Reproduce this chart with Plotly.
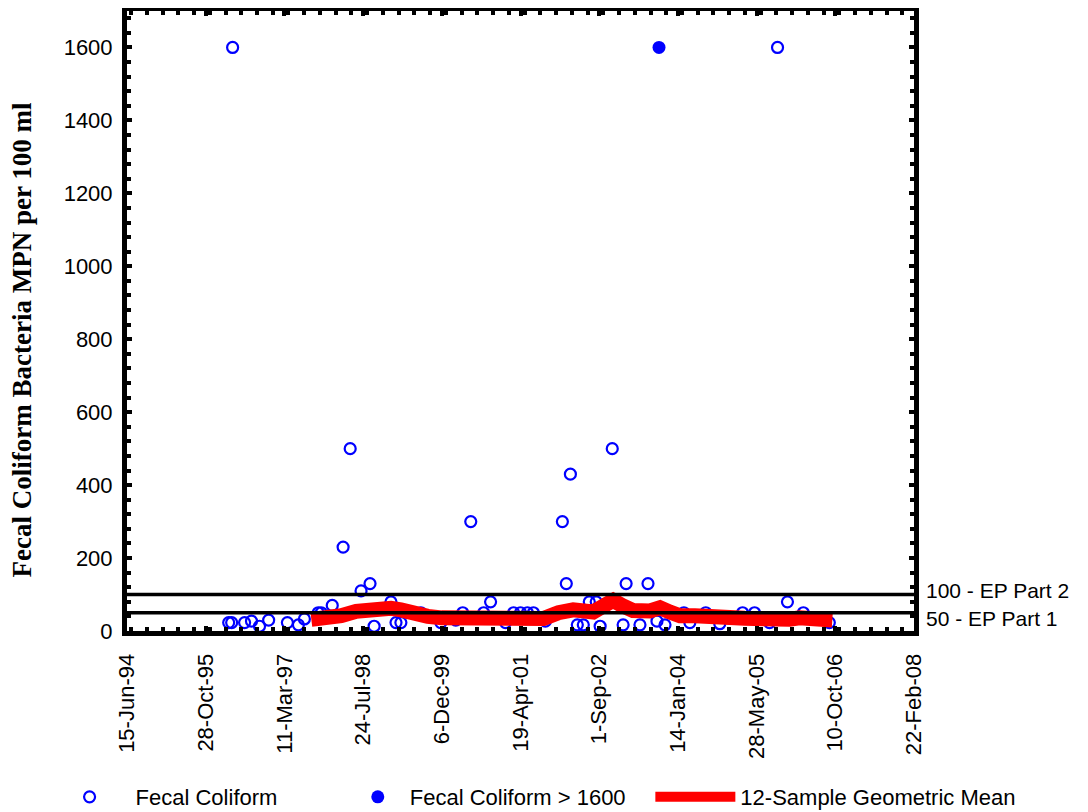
import plotly.graph_objects as go

# Fecal coliform samples (MPN per 100 ml)
fc_dates = [
    "1996-03-22", "1996-04-10", "1996-07-01", "1996-08-14", "1996-10-04", "1996-12-01",
    "1997-03-30", "1997-06-08", "1997-07-16", "1997-10-12", "1997-10-31", "1998-01-09",
    "1998-03-19", "1998-05-03", "1998-07-11", "1998-09-06", "1998-10-02", "1999-01-17",
    "1999-02-18", "1999-03-21", "1999-07-26", "1999-11-30", "2000-03-04", "2000-04-17",
    "2000-06-07", "2000-08-28", "2000-10-11", "2001-01-14", "2001-03-06", "2001-04-19",
    "2001-06-02", "2001-07-10", "2001-09-24", "2002-01-10", "2002-02-04", "2002-03-02",
    "2002-04-15", "2002-05-23", "2002-06-30", "2002-08-13", "2002-09-07", "2002-11-23",
    "2003-01-31", "2003-02-19", "2003-05-18", "2003-07-08", "2003-09-03", "2003-10-24",
    "2004-02-21", "2004-03-30", "2004-07-09", "2004-10-06", "2005-02-28", "2005-05-15",
    "2005-08-18", "2005-12-10", "2006-03-21", "2006-06-18", "2006-09-02",
    "1996-04-16", "2005-10-08",
]
fc_values = [
    23, 23, 23, 27, 13, 30,
    23, 17, 33, 50, 50, 70,
    230, 500, 110, 130, 13, 80,
    23, 23, 50, 23, 30, 50,
    300, 50, 80, 23, 50, 50,
    50, 50, 27, 300, 130, 430,
    17, 17, 80, 80, 13, 500,
    17, 130, 17, 130, 27, 17,
    50, 23, 50, 20, 50, 50,
    23, 80, 50, 33, 23,
    1600, 1600,
]

# Samples exceeding the 1600 upper limit
gt_dates = ["2003-09-16"]
gt_values = [1600]

# 12-sample running geometric mean
gm_dates = [
    "1997-08-29", "1997-12-02", "1998-03-07", "1998-06-10", "1998-10-02", "1999-01-17",
    "1999-03-21", "1999-05-24", "1999-09-08", "1999-12-06", "2000-03-16", "2000-06-07",
    "2000-08-28", "2000-12-13", "2001-04-19", "2001-09-12", "2001-12-16", "2002-03-20",
    "2002-07-25", "2002-10-09", "2002-11-29", "2003-01-25", "2003-04-04", "2003-07-21",
    "2003-09-22", "2003-11-24", "2004-01-27", "2004-05-01", "2004-08-04", "2004-12-08",
    "2005-03-13", "2005-06-16", "2005-09-19", "2005-12-23", "2006-02-24", "2006-04-28",
    "2006-07-13", "2006-09-21",
]
gm_values = [
    32, 34, 42, 54, 62, 62,
    58, 48, 40, 36, 36, 40,
    43, 38, 38, 34, 50, 58,
    52, 72, 84, 70, 56, 55,
    64, 52, 42, 42, 44, 37,
    35, 32, 30, 32, 36, 36,
    32, 30,
]

standards = [100, 50]
standard_labels = ["100 - EP Part 2", "50 - EP Part 1"]

x_start, x_end = "1994-06-15", "2008-02-22"
DAY_MS = 86400000

fig = go.Figure()

fig.add_trace(go.Scatter(
    x=fc_dates, y=fc_values, mode="markers", name="Fecal Coliform", legend="legend",
    marker=dict(symbol="circle-open", size=11, color="#0000FF", line=dict(width=2.2, color="#0000FF")),
))
fig.add_trace(go.Scatter(
    x=gt_dates, y=gt_values, mode="markers", name="Fecal Coliform > 1600", legend="legend2",
    marker=dict(symbol="circle", size=13, color="#0000FF"),
))
fig.add_trace(go.Scatter(
    x=gm_dates, y=gm_values, mode="lines", name="12-Sample Geometric Mean", legend="legend3",
    line=dict(color="#FF0000", width=15),
))

for val, lab, ys in zip(standards, standard_labels, [4, -6]):
    fig.add_shape(type="line", xref="paper", x0=0, x1=1, yref="y", y0=val, y1=val,
                  line=dict(color="black", width=3.5), layer="above")
    fig.add_annotation(xref="paper", x=1.0, yref="y", y=val, text=lab, showarrow=False,
                       xanchor="left", xshift=10, yshift=ys,
                       font=dict(family="Liberation Sans, Arial", size=21, color="black"))

# y-axis title placed as rotated text
fig.add_annotation(xref="paper", x=0, xanchor="center", xshift=-105,
                   yref="paper", y=0.4686, yanchor="middle",
                   text="<b>Fecal Coliform Bacteria MPN per 100 ml</b>", textangle=-90,
                   showarrow=False,
                   font=dict(family="Liberation Serif, Times New Roman", size=27, color="black"))

axis_common = dict(
    showline=True, linecolor="black", linewidth=5, mirror="allticks",
    ticks="inside", ticklen=5, tickwidth=4, tickcolor="black",
    showgrid=False, zeroline=False, automargin=False,
    tickfont=dict(family="Liberation Sans, Arial", size=22, color="black"),
)

fig.update_xaxes(
    type="date", range=[x_start, x_end],
    tick0=x_start, dtick=500 * DAY_MS, tickformat="%-d-%b-%y", tickangle=-90,
    ticklabelstandoff=9,
    minor=dict(dtick=100 * DAY_MS, ticks="inside", ticklen=4, tickwidth=4, tickcolor="black", showgrid=False),
    **axis_common,
)
fig.update_yaxes(
    range=[0, 1700], tick0=0, dtick=200,
    ticklabelstandoff=5,
    minor=dict(dtick=40, ticks="inside", ticklen=4, tickwidth=4, tickcolor="black", showgrid=False),
    **axis_common,
)

legend_font = dict(family="Liberation Sans, Arial", size=22, color="black")
legend_y = -0.2657
fig.update_layout(
    width=1088, height=812,
    margin=dict(l=119, r=182, t=3, b=188),
    plot_bgcolor="white", paper_bgcolor="white",
    showlegend=True,
    legend=dict(orientation="h", x=-0.106, xanchor="left", y=legend_y, yanchor="middle",
                font=legend_font, itemwidth=82),
    legend2=dict(orientation="h", x=0.278, xanchor="left", y=legend_y, yanchor="middle",
                 font=legend_font, itemwidth=54),
    legend3=dict(orientation="h", x=0.665, xanchor="left", y=legend_y, yanchor="middle",
                 font=legend_font, itemwidth=80),
)

fig.write_html("out.html")
